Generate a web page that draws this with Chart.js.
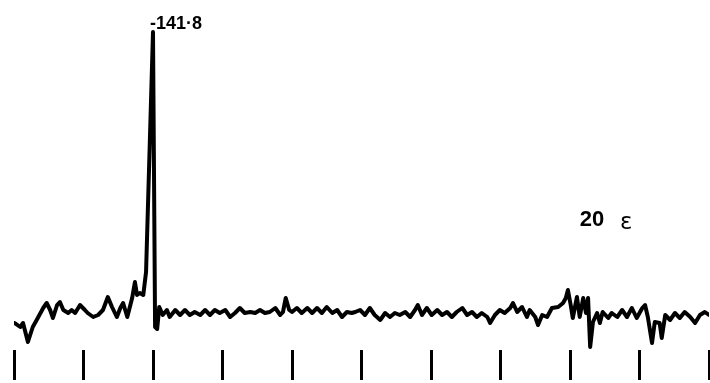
<!DOCTYPE html>
<html>
<head>
<meta charset="utf-8">
<script src="https://cdn.jsdelivr.net/npm/chart.js@4.4.1/dist/chart.umd.min.js"></script>
<style>
    html, body { margin: 0; padding: 0; background: #fff; }
    #wrap { width: 710px; height: 383px; }
</style>
</head>
<body>
<div id="wrap"><canvas id="spectrumChart"></canvas></div>
<script>
// Trace: x in chart divisions (0..10), y in intensity above baseline
const traceX = [
    0.01, 0.09, 0.13, 0.20, 0.27, 0.35, 0.42, 0.47, 0.52, 0.56, 0.62, 0.66, 0.71, 0.78, 0.83, 0.88,
    0.95, 1.02, 1.06, 1.14, 1.21, 1.28, 1.35, 1.41, 1.48, 1.53, 1.57, 1.63, 1.70, 1.74, 1.77, 1.81,
    1.86, 1.90, 2.00, 2.03, 2.06, 2.09, 2.14, 2.20, 2.24, 2.32, 2.39, 2.46, 2.53, 2.60, 2.68, 2.75,
    2.82, 2.89, 2.96, 3.04, 3.11, 3.18, 3.25, 3.32, 3.40, 3.47, 3.54, 3.61, 3.68, 3.76, 3.83, 3.87,
    3.91, 3.96, 4.00, 4.07, 4.14, 4.22, 4.29, 4.36, 4.43, 4.50, 4.58, 4.65, 4.72, 4.79, 4.86, 4.91,
    4.98, 5.05, 5.12, 5.19, 5.27, 5.34, 5.41, 5.48, 5.55, 5.63, 5.70, 5.77, 5.81, 5.87, 5.94, 6.01,
    6.09, 6.16, 6.23, 6.30, 6.37, 6.45, 6.52, 6.59, 6.66, 6.73, 6.81, 6.85, 6.92, 6.99, 7.06, 7.14,
    7.18, 7.24, 7.31, 7.38, 7.42, 7.50, 7.54, 7.60, 7.67, 7.74, 7.83, 7.90, 7.94, 7.97, 8.01, 8.04,
    8.10, 8.14, 8.19, 8.23, 8.26, 8.29, 8.33, 8.39, 8.43, 8.47, 8.55, 8.60, 8.68, 8.75, 8.82, 8.89,
    8.96, 9.04, 9.08, 9.12, 9.18, 9.22, 9.29, 9.32, 9.37, 9.44, 9.51, 9.58, 9.65, 9.73, 9.80, 9.87,
    9.94, 10.00
];
const traceY = [
    -10, -14, -10, -29, -14, -4, 5, 10, 3, -5, 8, 11, 3, 0, 3, 0,
    8, 3, 0, -4, -2, 3, 16, 6, -4, 5, 10, -4, 15, 31, 18, 20,
    18, 41, 281, -14, -16, 6, -2, 3, -4, 3, -2, 3, -2, 1, -2, 3,
    -2, 3, 0, 3, -4, 0, 5, 0, 1, 0, 3, 0, 1, 5, -2, 1,
    15, 3, 1, 5, 0, 5, 0, 5, 0, 6, 0, 3, -4, 1, 0, 1,
    3, -2, 5, -2, -7, 0, -4, 0, -2, 1, -4, 3, 8, -2, 5, -2,
    3, -2, 1, -4, 1, 5, -2, 1, -4, 0, -4, -10, -2, 3, 0, 5,
    10, 1, 6, -4, 3, -4, -12, -2, -4, 5, 6, 10, 15, 23, 8, -5,
    16, -4, 15, 0, 15, -34, -9, 0, -10, 1, -5, 0, -4, 3, -4, 5,
    -5, 5, 8, -4, -30, -9, -10, -25, -2, -7, 0, -5, 1, -4, -10, -2,
    1, -2
];

// Tick divisions along the bottom
const divisionTicks = [0, 1, 2, 3, 4, 5, 6, 7, 8, 9, 10];

// Text on the plot
const peakLabel = '-141·8';
const scaleLabel = '20';
const scaleUnit = 'ε';

const points = traceX.map((x, i) => ({ x: x, y: traceY[i] }));
const peakIndex = traceY.indexOf(Math.max(...traceY));

// draws the peak value and the scale note through the chart's scales
const labelPlugin = {
    id: 'spectrumLabels',
    afterDatasetsDraw(chart) {
        const ctx = chart.ctx;
        const xs = chart.scales.x;
        const ys = chart.scales.y;
        ctx.save();
        ctx.fillStyle = '#000';
        ctx.textBaseline = 'alphabetic';

        // peak shift, just above the top of the line
        ctx.font = 'bold 18px "Liberation Sans Narrow", "Liberation Sans", sans-serif';
        ctx.textAlign = 'left';
        ctx.fillText(peakLabel, xs.getPixelForValue(traceX[peakIndex]) - 3, ys.getPixelForValue(traceY[peakIndex]) - 3);

        // scale note on the right
        ctx.font = 'bold 22px "Liberation Sans", sans-serif';
        ctx.fillText(scaleLabel, xs.getPixelForValue(8.14), ys.getPixelForValue(87));
        ctx.font = '23px "DejaVu Sans", sans-serif';
        ctx.fillText(scaleUnit, xs.getPixelForValue(8.72), ys.getPixelForValue(84));
        ctx.restore();
    }
};

const ctx = document.getElementById('spectrumChart').getContext('2d');
const spectrumChart = new Chart(ctx, {
    type: 'line',
    data: {
        datasets: [
            {
                label: 'spectrum',
                data: points,
                borderColor: '#000',
                borderWidth: 4,
                borderJoinStyle: 'round',
                borderCapStyle: 'round',
                pointRadius: 0,
                tension: 0,
                fill: false
            }
        ]
    },
    options: {
        responsive: true,
        maintainAspectRatio: false,
        animation: false,
        layout: { padding: { left: 14, right: 1, top: 0, bottom: 3 } },
        plugins: {
            legend: { display: false },
            tooltip: { enabled: false }
        },
        scales: {
            x: {
                type: 'linear',
                min: 0,
                max: 10,
                afterBuildTicks: (axis) => {
                    axis.ticks = divisionTicks.map(v => ({ value: v }));
                },
                ticks: { display: false },
                grid: {
                    drawOnChartArea: false,
                    drawTicks: true,
                    tickLength: 30,
                    tickWidth: 3,
                    tickColor: '#000'
                },
                border: { display: false }
            },
            y: {
                display: false,
                min: -37,
                max: 313
            }
        }
    },
    plugins: [labelPlugin]
});
</script>
</body>
</html>
